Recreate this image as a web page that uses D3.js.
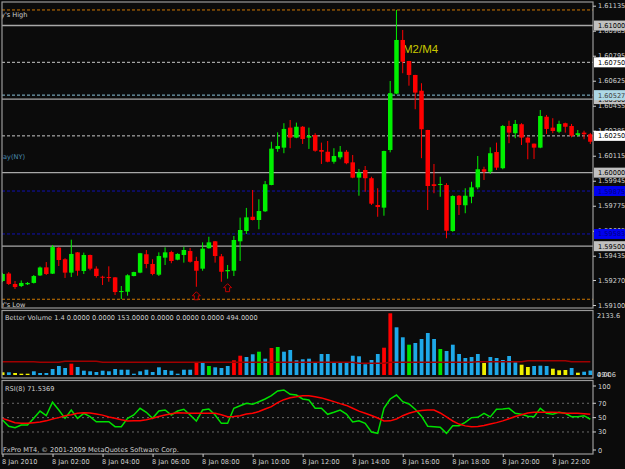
<!DOCTYPE html>
<html>
<head>
<meta charset="utf-8">
<script src="https://cdn.jsdelivr.net/npm/d3@7"></script>
<style>
    body { margin: 0; background: #0b0b0b; }
    svg { display: block; font-family: "DejaVu Sans", sans-serif; }
</style>
</head>
<body>
<svg id="chart" width="625" height="469"></svg>
<script>
(function () {
    'use strict';

    // 15 minute bars, 8 Jan 2010
    var open = [
        1.59263,1.59314,1.59243,1.59229,1.59241,1.59250,1.59301,1.59356,1.59313,1.59490,
        1.59411,1.59320,1.59458,1.59331,1.59440,1.59347,1.59292,1.59290,1.59288,1.59188,
        1.59190,1.59297,1.59320,1.59445,1.59379,1.59306,1.59422,1.59460,1.59408,1.59440,
        1.59467,1.59399,1.59347,1.59486,1.59533,1.59431,1.59329,1.59333,1.59533,1.59603,
        1.59700,1.59678,1.59737,1.59916,1.60161,1.60170,1.60306,1.60238,1.60312,1.60238,
        1.60256,1.60154,1.60142,1.60074,1.60104,1.60142,1.60070,1.59966,1.60018,1.59962,
        1.59780,1.59762,1.60154,1.60537,1.60902,1.60759,1.60664,1.60557,1.60290,1.59921,
        1.59916,1.59916,1.59603,1.59843,1.59778,1.59836,1.59900,1.60023,1.60006,1.60140,
        1.60030,1.60317,1.60268,1.60329,1.60238,1.60197,1.60170,1.60380,1.60306,1.60278,
        1.60336,1.60317,1.60256,1.60272,1.60261
    ];
    var high = [
        1.59318,1.59324,1.59263,1.59267,1.59256,1.59304,1.59362,1.59392,1.59508,1.59494,
        1.59418,1.59544,1.59460,1.59456,1.59443,1.59363,1.59299,1.59363,1.59290,1.59229,
        1.59309,1.59326,1.59454,1.59474,1.59411,1.59458,1.59492,1.59469,1.59452,1.59496,
        1.59488,1.59428,1.59526,1.59564,1.59535,1.59447,1.59372,1.59569,1.59694,1.59760,
        1.59882,1.59819,1.59943,1.60210,1.60274,1.60336,1.60358,1.60340,1.60317,1.60306,
        1.60268,1.60204,1.60215,1.60166,1.60181,1.60154,1.60120,1.60025,1.60045,1.59972,
        1.59894,1.60149,1.60623,1.61106,1.60970,1.60760,1.60665,1.60608,1.60291,1.60059,
        1.59972,1.59928,1.59846,1.59848,1.59894,1.59938,1.60113,1.60040,1.60172,1.60204,
        1.60324,1.60353,1.60358,1.60336,1.60244,1.60198,1.60426,1.60392,1.60370,1.60353,
        1.60340,1.60331,1.60290,1.60285,1.60270
    ];
    var low = [
        1.59256,1.59236,1.59209,1.59222,1.59236,1.59246,1.59297,1.59304,1.59311,1.59365,
        1.59284,1.59290,1.59299,1.59311,1.59336,1.59286,1.59236,1.59258,1.59168,1.59141,
        1.59163,1.59295,1.59316,1.59350,1.59302,1.59297,1.59372,1.59384,1.59404,1.59388,
        1.59388,1.59224,1.59333,1.59483,1.59388,1.59258,1.59279,1.59297,1.59399,1.59583,
        1.59675,1.59615,1.59732,1.59914,1.60142,1.60132,1.60166,1.60234,1.60195,1.60161,
        1.60142,1.60059,1.60070,1.60061,1.60091,1.60057,1.59962,1.59843,1.59870,1.59780,
        1.59700,1.59707,1.60138,1.60533,1.60676,1.60591,1.60431,1.60098,1.59746,1.59860,
        1.59836,1.59554,1.59598,1.59712,1.59724,1.59792,1.59887,1.59950,1.59991,1.60018,
        1.60023,1.60200,1.60234,1.60188,1.60091,1.60093,1.60166,1.60263,1.60268,1.60268,
        1.60272,1.60240,1.60244,1.60227,1.60195
    ];
    var close = [
        1.59311,1.59243,1.59222,1.59250,1.59250,1.59297,1.59355,1.59311,1.59494,1.59406,
        1.59320,1.59447,1.59333,1.59440,1.59347,1.59297,1.59288,1.59286,1.59188,1.59195,
        1.59302,1.59324,1.59452,1.59379,1.59311,1.59433,1.59458,1.59399,1.59447,1.59474,
        1.59394,1.59333,1.59483,1.59526,1.59433,1.59326,1.59338,1.59542,1.59610,1.59696,
        1.59678,1.59739,1.59921,1.60163,1.60181,1.60297,1.60238,1.60312,1.60229,1.60249,
        1.60149,1.60142,1.60074,1.60113,1.60142,1.60064,1.59966,1.60000,1.59962,1.59789,
        1.59766,1.60147,1.60540,1.60902,1.60754,1.60664,1.60544,1.60295,1.59909,1.59909,
        1.59923,1.59605,1.59841,1.59780,1.59843,1.59900,1.60023,1.60006,1.60132,1.60034,
        1.60317,1.60272,1.60331,1.60238,1.60204,1.60170,1.60385,1.60297,1.60283,1.60331,
        1.60312,1.60251,1.60268,1.60261,1.60210
    ];
    var arrowBars = [31, 36];

    var volume = [
        93,93,69,45,45,128,69,69,207,311, 242,391,277,149,128,104,149,128,207,183,
        183,45,128,183,104,266,173,149,45,183, 183,415,415,311,266,242,311,508,667,622,
        716,806,564,934,968,806,865,508,543,564, 415,726,726,415,415,415,667,647,370,519,
        726,944,2133.6,1649,1304,1048,1107,1245,1452,1245, 899,830,1048,726,588,622,726,415,622,588,
        519,657,439,356,277,311,322,311,218,163, 173,242,80,114,153
    ];
    // b normal, r climax, g churn, y low volume
    var volumeType = ('ybyyybbbbbbrbbbbbbbbbbbbbbbbbbbrbgbbbrrbbgbrgbbbbbbbbbbbbbbbbrrbbgbbbbgbbbbbbybbbbbyybbbyyybybb').split('');
    var volumeAvg = [
        460,460,460,460,460,460,440,440,440,440, 474,474,474,474,474,474,440,440,440,440,
        440,440,440,440,440,440,440,440,440,440, 440,440,440,440,440,440,440,440,440,440,
        440,440,440,440,440,440,440,440,440,440, 440,440,440,440,440,440,440,405,405,405,
        405,405,440,440,440,440,440,440,440,440, 440,440,440,440,440,440,455,455,455,455,
        455,455,455,455,494,494,494,494,494,494, 494,460,460,460,460
    ];

    var rsi = [
        46.7,38,36,39.7,39.7,49,59.2,52.7,71.4,60.6, 49,60.6,49,56,51.3,44.3,44.3,44.3,37.4,37.4,
        49,53.7,63,57.4,49,59.2,60.6,53.7,59.2,61.6, 53.7,45.3,60.6,62,53.7,42,42,63,66.6,70,
        68.6,72.2,76,80.6,87.1,88.5,82.5,81.5,76,74.6, 63,63,54.6,57.4,60.6,55,44,45.7,42,30,
        28.1,63,76,81.5,72.2,69,61.6,52,38,37.4, 36.5,28,38.7,38.7,43.5,50,50.5,56,51,61.6,
        62,63,56,54.6,52,51.3,63,56,54.6,57.4, 56,51.3,51.3,52.7,47.7
    ];
    var rsiSignal = [
        49,46,43,42,42,43,44,45.5,48,50, 52.5,54,56,56.9,56.5,55,53.5,51,49,47,
        45.3,45.5,45.8,47,49,51.5,53.7,55.5,56.9,56.5, 56,56,56,56,56,54,51.3,51.5,52.7,55,
        56,58.5,62,65.3,71,75,77.8,79,80.6,80.6, 79,77.5,75,72.3,69.5,67,63,59,56,53,
        49.5,45.3,45.5,48,52.7,56,58.5,60,60.6,60.6, 56.5,51,45.3,41,38.5,37.4,37.5,39,41,43,
        45.5,48.5,51.5,54,56.5,57.4,57.4,57.4,57.4,57, 56,56,56,55.5,54.6
    ];
    var rsiLevels = [70, 50, 30];
    var rsiTicks = [100, 70, 50, 30, 0];

    var yesterdayHigh = 1.61106;
    var yesterdayLow = 1.59139;
    var roundLevels = [1.61000, 1.60500, 1.60000, 1.59500];
    var quarterLevels = [1.60750, 1.60250];
    var pivotLevel = 1.60527;
    var blueLevels = [1.59875, 1.59583];
    var priceTicks = [1.61135,1.60965,1.60795,1.60625,1.60455,1.60285,1.60115,1.59945,1.59775,1.59605,1.59435,1.59270,1.59100];

    var timeTickBars = [0,8,16,24,32,40,48,56,64,72,80,88];
    var timeTickLabels = ['8 Jan 2010','8 Jan 02:00','8 Jan 04:00','8 Jan 06:00','8 Jan 08:00','8 Jan 10:00',
        '8 Jan 12:00','8 Jan 14:00','8 Jan 16:00','8 Jan 18:00','8 Jan 20:00','8 Jan 22:00'];

    var volumeMaxLabel = '2133.6';

    // layout
    var W = 625, H = 469;
    var left = 2, right = 593;
    var mainTop = 2, mainBottom = 308;
    var volTop = 310.5, volBottom = 378;
    var rsiTop = 380.5, rsiBottom = 454;
    var frameColor = '#9a9a9a';
    var textColor = '#d0d0d0';
    var bullColor = '#00f000';
    var bearColor = '#ff0000';
    var volColors = { b: '#1ea8e8', r: '#ff0000', g: '#00e400', y: '#f0f000' };

    var svg = d3.select('#chart');
    svg.append('rect').attr('width', W).attr('height', H).attr('fill', '#0b0b0b');

    var defs = svg.append('defs');
    function clip(id, y0, y1) {
        defs.append('clipPath').attr('id', id).append('rect')
            .attr('x', left).attr('y', y0).attr('width', right - left).attr('height', y1 - y0);
    }
    clip('clipMain', mainTop, mainBottom);
    clip('clipVol', volTop, volBottom);
    clip('clipRsi', rsiTop, rsiBottom);

    var x = d3.scaleLinear().domain([0, open.length - 1]).range([2.5, 590.3]);
    var y = d3.scaleLinear().domain([1.59100, 1.61135]).range([305, 5.7]);
    var yv = d3.scaleLinear().domain([0, 2133.6]).range([375, 313.3]);
    var yr = d3.scaleLinear().domain([0, 100]).range([453.5, 381.75]);

    // ---- main panel ----
    var gMain = svg.append('g').attr('clip-path', 'url(#clipMain)');

    function hLine(g, price, color, width, dash) {
        var l = g.append('line')
            .attr('x1', left).attr('x2', right)
            .attr('y1', y(price)).attr('y2', y(price))
            .attr('stroke', color).attr('stroke-width', width);
        if (dash) l.attr('stroke-dasharray', dash);
    }
    hLine(gMain, yesterdayHigh, '#d07800', 1, '3,2');
    hLine(gMain, yesterdayLow, '#d07800', 1, '3,2');
    roundLevels.forEach(function (p) { hLine(gMain, p, '#a8a8a8', 1.4); });
    quarterLevels.forEach(function (p) { hLine(gMain, p, '#c8c8c8', 1, '3,2'); });
    hLine(gMain, pivotLevel, '#8cc4dc', 1, '3,2');
    blueLevels.forEach(function (p) { hLine(gMain, p, '#1010b0', 1, '3,2'); });

    gMain.append('text').attr('x', 1).attr('y', 17).attr('fill', textColor)
        .style('font-size', '6.6px').text("y's High");
    gMain.append('text').attr('x', 3).attr('y', 159).attr('fill', '#4a8cb0')
        .style('font-size', '6.6px').text('ay(NY)');
    gMain.append('text').attr('x', 1).attr('y', 306.5).attr('fill', textColor)
        .style('font-size', '6.6px').text("Y's Low");
    gMain.append('text').attr('x', 403).attr('y', 53).attr('fill', '#c8c800')
        .style('font-family', '"Liberation Sans", Arial, sans-serif')
        .style('font-size', '11.5px').text('M2/M4');

    var candles = open.map(function (o, i) {
        return { i: i, o: o, h: high[i], l: low[i], c: close[i] };
    });
    var cg = gMain.selectAll('g.candle').data(candles).enter().append('g');
    cg.append('line')
        .attr('x1', function (d) { return x(d.i); })
        .attr('x2', function (d) { return x(d.i); })
        .attr('y1', function (d) { return y(d.h); })
        .attr('y2', function (d) { return y(d.l); })
        .attr('stroke', function (d) { return d.c >= d.o ? bullColor : bearColor; })
        .attr('stroke-width', 1);
    cg.append('rect')
        .attr('x', function (d) { return x(d.i) - 2.2; })
        .attr('width', 4.5)
        .attr('y', function (d) { return y(Math.max(d.o, d.c)); })
        .attr('height', function (d) { return Math.max(1, Math.abs(y(d.o) - y(d.c))); })
        .attr('fill', function (d) { return d.c >= d.o ? bullColor : bearColor; });

    arrowBars.forEach(function (i) {
        var ax = x(i), ay = y(low[i]) + 5;
        gMain.append('path')
            .attr('d', 'M' + ax + ',' + ay + ' l4,4 h-2 v4 h-4 v-4 h-2 z')
            .attr('fill', 'none').attr('stroke', '#c00000').attr('stroke-width', 1);
    });

    // ---- volume panel ----
    var gVol = svg.append('g').attr('clip-path', 'url(#clipVol)');
    gVol.selectAll('rect.vol').data(volume).enter().append('rect')
        .attr('x', function (d, i) { return x(i) - 1.8; })
        .attr('width', 3.8)
        .attr('y', function (d) { return yv(d); })
        .attr('height', function (d) { return yv(0) - yv(d); })
        .attr('fill', function (d, i) { return volColors[volumeType[i]]; });
    gVol.append('path')
        .datum(volumeAvg)
        .attr('d', d3.line().x(function (d, i) { return x(i); }).y(function (d) { return yv(d); }))
        .attr('fill', 'none').attr('stroke', '#a00000').attr('stroke-width', 1.5);
    gVol.append('text').attr('x', 5).attr('y', 320).attr('fill', textColor)
        .style('font-size', '6.6px')
        .text('Better Volume 1.4 0.0000 0.0000 153.0000 0.0000 0.0000 0.0000 494.0000');

    // ---- rsi panel ----
    var gRsi = svg.append('g').attr('clip-path', 'url(#clipRsi)');
    rsiLevels.forEach(function (v) {
        gRsi.append('line').attr('x1', left).attr('x2', right)
            .attr('y1', yr(v)).attr('y2', yr(v))
            .attr('stroke', '#6a6a6a').attr('stroke-width', 1).attr('stroke-dasharray', '2,3');
    });
    var rsiLine = d3.line().x(function (d, i) { return x(i); }).y(function (d) { return yr(d); });
    gRsi.append('path').datum(rsi).attr('d', rsiLine)
        .attr('fill', 'none').attr('stroke', '#00e000').attr('stroke-width', 1.5);
    gRsi.append('path').datum(rsiSignal).attr('d', rsiLine)
        .attr('fill', 'none').attr('stroke', '#ff0000').attr('stroke-width', 1.5);
    gRsi.append('text').attr('x', 5).attr('y', 391).attr('fill', textColor)
        .style('font-size', '6.6px').text('RSI(8) 71.5369');
    gRsi.append('text').attr('x', 3).attr('y', 451.5).attr('fill', textColor)
        .style('font-size', '6.6px').text('FxPro MT4, \u00a9 2001-2009 MetaQuotes Software Corp.');

    // ---- frames ----
    [[mainTop, mainBottom], [volTop, volBottom], [rsiTop, rsiBottom]].forEach(function (p) {
        svg.append('rect').attr('x', left).attr('y', p[0])
            .attr('width', right - left).attr('height', p[1] - p[0])
            .attr('fill', 'none').attr('stroke', frameColor).attr('stroke-width', 1.2);
    });

    // ---- price axis ----
    var priceAxis = d3.axisRight(y).tickValues(priceTicks)
        .tickFormat(d3.format('.5f')).tickSize(3).tickPadding(2);
    var ga = svg.append('g').attr('transform', 'translate(' + right + ',0)').call(priceAxis);
    ga.select('.domain').remove();
    ga.selectAll('line').attr('stroke', textColor);
    ga.selectAll('text').attr('fill', textColor).style('font-size', '6.6px')
        .style('font-family', '"DejaVu Sans", sans-serif');

    function priceBox(price, bg, fg) {
        var yy = y(price);
        svg.append('rect').attr('x', right + 1).attr('y', yy - 5).attr('width', 31).attr('height', 10)
            .attr('fill', bg);
        svg.append('text').attr('x', right + 5).attr('y', yy + 2.5).attr('fill', fg)
            .style('font-size', '6.6px').text(d3.format('.5f')(price));
    }
    priceBox(1.60500, '#c0c0c0', '#000');
    priceBox(pivotLevel, '#add8e6', '#404040');
    priceBox(quarterLevels[0], '#ffffff', '#000');
    priceBox(quarterLevels[1], '#ffffff', '#000');
    priceBox(roundLevels[0], '#c0c0c0', '#000');
    priceBox(roundLevels[2], '#c0c0c0', '#000');
    priceBox(roundLevels[3], '#c0c0c0', '#000');
    blueLevels.forEach(function (p) { priceBox(p, '#0000f0', '#000080'); });

    // ---- volume axis ----
    svg.append('text').attr('x', right + 4).attr('y', 318).attr('fill', textColor)
        .style('font-size', '6.6px').text(volumeMaxLabel);
    svg.append('text').attr('x', right + 4).attr('y', 377).attr('fill', textColor)
        .style('font-size', '6.6px').text('494.6');
    svg.append('text').attr('x', right + 4).attr('y', 377).attr('fill', textColor)
        .style('font-size', '6.6px').text('0.00');

    // ---- rsi axis ----
    rsiTicks.forEach(function (v) {
        var yy = Math.max(386, Math.min(450, yr(v)));
        svg.append('line').attr('x1', right).attr('x2', right + 3).attr('y1', yy).attr('y2', yy)
            .attr('stroke', textColor);
        svg.append('text').attr('x', right + 5).attr('y', yy + 2.5).attr('fill', textColor)
            .style('font-size', '6.6px').text(v);
    });

    // ---- time axis ----
    var timeAxis = d3.axisBottom(x).tickValues(timeTickBars)
        .tickFormat(function (d, i) { return timeTickLabels[i]; }).tickSize(3).tickPadding(2);
    var gt = svg.append('g').attr('transform', 'translate(0,' + rsiBottom + ')').call(timeAxis);
    gt.select('.domain').remove();
    gt.selectAll('line').attr('stroke', textColor);
    gt.selectAll('text').attr('fill', textColor).attr('text-anchor', 'start').attr('dx', '-1')
        .style('font-size', '6.6px').style('font-family', '"DejaVu Sans", sans-serif');
})();
</script>
</body>
</html>
